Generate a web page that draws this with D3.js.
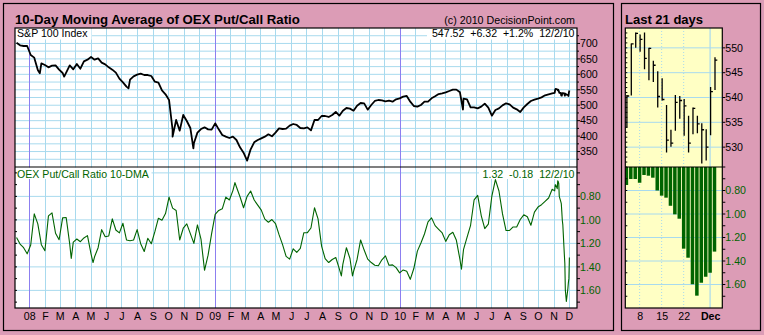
<!DOCTYPE html>
<html><head><meta charset="utf-8">
<script src="https://cdn.jsdelivr.net/npm/d3@7"></script>
<style>
html,body{margin:0;padding:0;background:#fff;}
svg{display:block;font-family:"Liberation Sans",Arial,sans-serif;}
text{white-space:pre;}
</style></head><body>
<svg id="c" width="764" height="335"></svg>
<script>
// ---------------- DATA ----------------
const weekStart = "2007-12-07"; // weekly samples (Fridays) of the long series
const priceWeekly = [702.5,693.9,691.7,691.7,662.6,654.0,614.0,635.6,630.2,622.7,628.0,629.1,615.1,604.3,605.4,629.1,616.2,633.4,618.3,642.1,
 647.5,656.1,647.5,651.8,637.8,632.4,622.7,615.1,605.4,586.0,574.1,560.1,582.7,593.5,598.9,602.2,597.8,597.8,594.6,576.3,
 573.0,548.0,535.3,516.9,419.8,452.2,417.6,468.4,449.0,426.3,376.6,411.2,423.0,428.4,421.9,420.9,441.4,421.9,403.6,398.2,
 393.9,398.2,387.4,363.7,346.4,320.5,357.2,379.9,387.4,392.8,398.2,405.8,399.3,411.2,425.2,423.0,424.1,433.8,439.2,436.0,
 426.3,425.2,428.4,418.7,452.2,452.2,465.1,465.1,461.9,468.3,478.1,466.2,482.4,491.0,488.9,482.4,498.6,507.2,506.1,485.6,
 500.7,513.7,516.9,515.8,512.6,514.8,511.5,519.1,522.3,527.7,529.9,511.5,497.5,495.3,500.7,511.5,511.5,522.3,528.8,536.3,
 538.5,541.7,546.0,550.4,550.4,541.7,521.2,519.1,493.1,493.1,489.9,495.3,505.0,492.1,466.2,484.5,489.9,499.6,506.1,502.9,
 492.1,486.7,478.1,493.1,504.0,513.7,518.0,521.2,525.5,532.0,535.3,538.5];
const pcrWeekly = [1.149,1.206,1.237,1.289,1.214,0.949,1.034,1.211,1.263,0.966,0.94,1.114,1.169,0.983,0.98,1.206,1.189,1.163,1.186,1.154,
 1.134,1.289,1.314,1.237,1.083,1.143,1.137,0.991,1.086,1.111,1.029,1.171,1.177,1.171,1.083,1.203,1.269,1.157,1.203,1.10,
 0.986,1.003,0.946,0.806,0.90,0.92,1.171,1.071,1.034,1.117,1.20,1.043,1.163,1.429,1.30,1.117,0.954,0.92,0.906,0.806,
 0.831,0.751,0.72,0.803,0.897,0.80,0.754,0.831,0.874,0.917,0.994,1.02,0.997,1.031,1.126,1.211,1.311,1.334,1.246,1.277,
 1.243,1.109,1.109,1.069,0.897,0.991,1.223,1.329,1.363,1.337,1.32,1.417,1.377,1.237,1.329,1.44,1.337,1.171,1.257,1.334,
 1.363,1.386,1.391,1.34,1.306,1.386,1.383,1.406,1.451,1.426,1.437,1.506,1.414,1.266,1.197,1.12,1.017,0.983,1.049,1.08,
 1.111,1.183,1.126,1.106,1.174,1.337,1.254,1.149,1.046,0.829,0.791,0.963,1.074,1.037,0.797,0.657,0.754,0.949,1.091,1.089,
 1.06,1.06,0.997,0.957,0.974,1.046,0.934,0.891,0.871,0.843,0.814,0.74];

// extra single-day extremes (between weekly samples)
const priceExtraDates = ["2008-01-22","2008-03-10","2008-07-15","2008-10-10","2008-11-20","2010-05-06"];
const priceExtraValues = [603.2,592.4,554.7,398.2,360.4,486.0];
const pcrExtraDates = ["2008-03-24","2008-05-06","2009-02-10","2009-09-08","2009-09-30","2010-05-03"];
const pcrExtraValues = [1.329,1.363,0.683,1.477,1.477,1.42];

// last 21 trading days
const recentDates = ["2010-11-03","2010-11-04","2010-11-05","2010-11-08","2010-11-09","2010-11-10","2010-11-11","2010-11-12",
 "2010-11-15","2010-11-16","2010-11-17","2010-11-18","2010-11-19","2010-11-22","2010-11-23","2010-11-24","2010-11-26",
 "2010-11-29","2010-11-30","2010-12-01","2010-12-02"];
const recentHigh  = [540.5,550.9,553.1,552.7,553.1,550.0,547.4,545.3,543.9,538.5,533.5,540.5,540.3,539.7,536.3,538.0,536.3,534.8,533.6,542.1,548.1];
const recentLow   = [533.9,540.4,550.0,549.2,545.7,543.5,543.1,538.0,539.4,528.9,530.1,533.3,535.7,532.3,528.9,532.6,532.8,526.7,527.3,532.4,541.5];
const recentClose = [540.3,550.8,552.9,551.7,547.9,549.9,546.5,540.2,539.6,531.4,530.8,539.0,539.4,538.3,530.8,537.8,534.7,533.5,530.0,541.20,547.52];
const recentPcr   = [0.753,0.702,0.702,0.734,0.668,0.674,0.691,0.80,0.844,0.861,0.93,1.003,1.04,1.295,1.372,1.598,1.695,1.585,1.534,1.50,1.32];

const priceTicks = [350,400,450,500,550,600,650,700];
const pcrTicks = [0.80,1.00,1.20,1.40,1.60];
const recentPriceTicks = [530,535,540,545,550];
const recentTickDates = ["2010-11-08","2010-11-15","2010-11-22","2010-12-01"];
const recentTickLabels = ["8","15","22","Dec"];

const titleText = "10-Day Moving Average of OEX Put/Call Ratio";
const copyText = "(c) 2010 DecisionPoint.com";
const priceName = "S&P 100 Index";
const pcrName = "OEX Put/Call Ratio 10-DMA";
const recentTitle = "Last 21 days";

// ---------------- SETUP ----------------
const parse = d3.timeParse("%Y-%m-%d");
const W = 764, H = 335;
const PINK = "#dc9cb6", GRID = "#a8daee", YEAR = "#8c7ff0", GREEN = "#006400", YELLOW = "#ffffc4";
const FONT = 10.6;
const svg = d3.select("#c");

const wk0 = parse(weekStart);
const weeklyDates = priceWeekly.map((_, i) => d3.timeDay.offset(wk0, 7 * i));
const recentParsed = recentDates.map(parse);
const priceSeries = weeklyDates.map((d, i) => ({date: d, v: priceWeekly[i]}))
  .concat(priceExtraDates.map((d, i) => ({date: parse(d), v: priceExtraValues[i]})))
  .concat(recentParsed.map((d, i) => ({date: d, v: recentClose[i]})))
  .sort((a, b) => a.date - b.date);
const pcrSeries = weeklyDates.map((d, i) => ({date: d, v: pcrWeekly[i]}))
  .concat(pcrExtraDates.map((d, i) => ({date: parse(d), v: pcrExtraValues[i]})))
  .concat(recentParsed.map((d, i) => ({date: d, v: recentPcr[i]})))
  .sort((a, b) => a.date - b.date);

const L = {x0: 15, x1: 577, y0: 28, ym: 167, y1: 308};
const R = {x0: 625.3, x1: 722.3, y0: 28, ym: 167, y1: 308};

const x = d3.scaleTime().domain([new Date(2007, 11, 4), new Date(2010, 11, 17)]).range([L.x0, L.x1]);
const yP = d3.scaleLinear().domain([300, 750]).range([L.ym, L.y0]);
const yR = d3.scaleLinear().domain([0.55, 1.75]).range([L.ym, L.y1]);

const rx = d3.scaleLinear().domain([0, 20]).range([626.4, 714.5]);
const ryP = d3.scaleLinear().domain([526, 554]).range([R.ym, R.y0]);
const ryR = d3.scaleLinear().domain([0.6, 1.8]).range([R.ym, R.y1]);

// background
svg.append("rect").attr("width", W).attr("height", H).attr("fill", PINK);
svg.append("rect").attr("x", 3.5).attr("y", 3.5).attr("width", 610).attr("height", 327)
  .attr("fill", "none").attr("stroke", "#000").attr("stroke-width", 1.2);
svg.append("rect").attr("x", 621.5).attr("y", 3.5).attr("width", 139).attr("height", 327)
  .attr("fill", "none").attr("stroke", "#000").attr("stroke-width", 1.2);

const defs = svg.append("defs");
defs.append("clipPath").attr("id", "clipP").append("rect").attr("x", L.x0).attr("y", L.y0).attr("width", L.x1 - L.x0).attr("height", L.ym - L.y0);
defs.append("clipPath").attr("id", "clipR").append("rect").attr("x", L.x0).attr("y", L.ym).attr("width", L.x1 - L.x0).attr("height", L.y1 - L.ym);
defs.append("clipPath").attr("id", "clipRR").append("rect").attr("x", R.x0).attr("y", R.y0).attr("width", R.x1 - R.x0).attr("height", R.y1 - R.y0);

// ---------------- MAIN PANEL ----------------
const g = svg.append("g");
g.append("rect").attr("x", L.x0).attr("y", L.y0).attr("width", L.x1 - L.x0).attr("height", L.y1 - L.y0).attr("fill", "#fff");

const priceGrid = d3.range(325, 750, 25);
g.selectAll(".hgp").data(priceGrid).join("line")
  .attr("x1", L.x0).attr("x2", L.x1).attr("y1", d => yP(d)).attr("y2", d => yP(d))
  .attr("stroke", GRID).attr("stroke-width", 1);
const pcrGrid = [0.6].concat(pcrTicks);
g.selectAll(".hgr").data(pcrGrid).join("line")
  .attr("x1", L.x0).attr("x2", L.x1).attr("y1", d => yR(d)).attr("y2", d => yR(d))
  .attr("stroke", GRID).attr("stroke-width", 1);

const months = d3.timeMonth.range(new Date(2008, 0, 1), new Date(2010, 11, 2));
g.selectAll(".vg").data(months).join("line")
  .attr("x1", d => Math.round(x(d)) + 0.5).attr("x2", d => Math.round(x(d)) + 0.5)
  .attr("y1", L.y0).attr("y2", L.y1)
  .attr("stroke", d => d.getMonth() === 0 ? YEAR : GRID).attr("stroke-width", 1);

g.append("path").datum(priceSeries).attr("clip-path", "url(#clipP)")
  .attr("d", d3.line().x(d => x(d.date)).y(d => yP(d.v)))
  .attr("fill", "none").attr("stroke", "#000").attr("stroke-width", 1.8).attr("stroke-linejoin", "round");
g.append("path").datum(pcrSeries).attr("clip-path", "url(#clipR)")
  .attr("d", d3.line().x(d => x(d.date)).y(d => yR(d.v)))
  .attr("fill", "none").attr("stroke", GREEN).attr("stroke-width", 1.1).attr("stroke-linejoin", "round");

const fmtDate = d => `${d.getMonth() + 1}/${d.getDate()}/${String(d.getFullYear()).slice(2)}`;
const signed = v => (v >= 0 ? "+" : "-") + Math.abs(v).toFixed(2);
const n = recentClose.length;
const lastDate = recentParsed[n - 1];
const pChg = recentClose[n - 1] - recentClose[n - 2];
const pPct = pChg / recentClose[n - 2] * 100;
const rChg = recentPcr[n - 1] - recentPcr[n - 2];
const priceStats = `${recentClose[n - 1].toFixed(2)}  ${signed(pChg)}  ${(pPct >= 0 ? "+" : "-") + Math.abs(pPct).toFixed(1)}%  ${fmtDate(lastDate)}`;
const pcrStats = `${recentPcr[n - 1].toFixed(2)}  ${signed(rChg)}  ${fmtDate(lastDate)}`;

function labelBox(xx, yy, w, h) {
  g.append("rect").attr("x", xx).attr("y", yy).attr("width", w).attr("height", h).attr("fill", "#fff");
}
labelBox(L.x0 + 0.5, L.y0 + 0.5, 76, 11);
labelBox(427, L.y0 + 0.5, L.x1 - 427 - 0.5, 11);
labelBox(L.x0 + 0.5, L.ym + 0.5, 136, 11.5);
labelBox(479, L.ym + 0.5, L.x1 - 479 - 0.5, 11.5);

g.append("text").attr("x", 17).attr("y", 37).attr("font-size", FONT).attr("fill", "#000").text(priceName);
g.append("text").attr("x", 574.5).attr("y", 37).attr("text-anchor", "end").attr("font-size", FONT).attr("fill", "#000").text(priceStats);
g.append("text").attr("x", 17).attr("y", 177.5).attr("font-size", FONT).attr("fill", GREEN).text(pcrName);
g.append("text").attr("x", 574.5).attr("y", 177.5).attr("text-anchor", "end").attr("font-size", FONT).attr("fill", GREEN).text(pcrStats);

g.append("rect").attr("x", L.x0).attr("y", L.y0).attr("width", L.x1 - L.x0).attr("height", L.y1 - L.y0)
  .attr("fill", "none").attr("stroke", "#000").attr("stroke-width", 1.2);
g.append("line").attr("x1", L.x0).attr("x2", L.x1).attr("y1", L.ym).attr("y2", L.ym).attr("stroke", "#000").attr("stroke-width", 1.2);

g.selectAll(".tp").data(priceGrid).join("line")
  .attr("x1", L.x1).attr("x2", d => L.x1 + (d % 50 === 0 ? 3 : 2)).attr("y1", d => yP(d)).attr("y2", d => yP(d))
  .attr("stroke", "#000");
g.selectAll(".lp").data(priceTicks).join("text")
  .attr("x", L.x1 + 3).attr("y", d => yP(d)).attr("dy", "0.36em").attr("font-size", FONT).attr("fill", "#000").text(d => d);
const pcrMinor = d3.range(6, 18).map(v => v / 10);
g.selectAll(".tr").data(pcrMinor).join("line")
  .attr("x1", L.x1).attr("x2", L.x1 + 3).attr("y1", d => yR(d)).attr("y2", d => yR(d)).attr("stroke", "#000");
g.selectAll(".tl").data(pcrMinor).join("line")
  .attr("x1", L.x0).attr("x2", L.x0 + 2).attr("y1", d => yR(d)).attr("y2", d => yR(d)).attr("stroke", "#000");
g.selectAll(".lr").data(pcrTicks).join("text")
  .attr("x", L.x1 + 3).attr("y", d => yR(d)).attr("dy", "0.36em").attr("font-size", FONT).attr("fill", GREEN).text(d => d.toFixed(2));

const fy = d3.timeFormat("%y"), fm = d3.timeFormat("%b");
g.selectAll(".xl").data(months).join("text")
  .attr("x", d => x(d) + 0.5).attr("y", 320).attr("text-anchor", "middle").attr("font-size", FONT).attr("fill", "#000")
  .text(d => d.getMonth() === 0 ? fy(d) : fm(d)[0]);

svg.append("text").attr("x", 15).attr("y", 24).attr("font-size", 13.2).attr("font-weight", "bold").text(titleText);
svg.append("text").attr("x", 575).attr("y", 24).attr("text-anchor", "end").attr("font-size", 10.7).text(copyText);

// ---------------- RIGHT PANEL ----------------
const r = svg.append("g");
r.append("rect").attr("x", R.x0).attr("y", R.y0).attr("width", R.x1 - R.x0).attr("height", R.y1 - R.y0).attr("fill", YELLOW);
r.selectAll(".rhg").data(recentPriceTicks).join("line")
  .attr("x1", R.x0).attr("x2", R.x1).attr("y1", d => ryP(d)).attr("y2", d => ryP(d)).attr("stroke", GRID);
r.selectAll(".rhr").data(pcrTicks).join("line")
  .attr("x1", R.x0).attr("x2", R.x1).attr("y1", d => ryR(d)).attr("y2", d => ryR(d)).attr("stroke", GRID);
const tickIdx = recentTickDates.map(d => recentDates.indexOf(d));
r.selectAll(".rvg").data(tickIdx).join("line")
  .attr("x1", d => rx(d)).attr("x2", d => rx(d)).attr("y1", R.y0).attr("y2", R.y1)
  .attr("stroke", GRID).attr("stroke-width", (d, i) => recentTickLabels[i] === "Dec" ? 1.2 : 1)
  .attr("stroke-dasharray", (d, i) => recentTickLabels[i] === "Dec" ? null : "1,2");

const rc = r.append("g").attr("clip-path", "url(#clipRR)");
const idx = d3.range(recentDates.length);
rc.selectAll(".bar").data(idx).join("rect")
  .attr("x", i => rx(i) - 1.75).attr("width", 3.5)
  .attr("y", ryR(0.6)).attr("height", i => ryR(recentPcr[i]) - ryR(0.6)).attr("fill", GREEN);
rc.selectAll(".hl").data(idx).join("line")
  .attr("x1", i => rx(i) + 0.5).attr("x2", i => rx(i) + 0.5)
  .attr("y1", i => ryP(recentHigh[i])).attr("y2", i => ryP(recentLow[i]))
  .attr("stroke", "#000").attr("stroke-width", 1.3);
rc.selectAll(".cl").data(idx).join("line")
  .attr("x1", i => rx(i) + 0.5).attr("x2", i => rx(i) + 2.8)
  .attr("y1", i => ryP(recentClose[i])).attr("y2", i => ryP(recentClose[i]))
  .attr("stroke", "#000").attr("stroke-width", 1.3);

r.append("rect").attr("x", R.x0).attr("y", R.y0).attr("width", R.x1 - R.x0).attr("height", R.y1 - R.y0)
  .attr("fill", "none").attr("stroke", "#000").attr("stroke-width", 1.2);
r.append("line").attr("x1", R.x0).attr("x2", R.x1).attr("y1", R.ym).attr("y2", R.ym).attr("stroke", "#000").attr("stroke-width", 1.2);

const rpMinor = d3.range(527, 554, 1);
r.selectAll(".rtl").data(rpMinor).join("line")
  .attr("x1", R.x0).attr("x2", R.x0 + 2).attr("y1", d => ryP(d)).attr("y2", d => ryP(d)).attr("stroke", "#000");
r.selectAll(".rtr").data(recentPriceTicks).join("line")
  .attr("x1", R.x1).attr("x2", R.x1 + 3).attr("y1", d => ryP(d)).attr("y2", d => ryP(d)).attr("stroke", "#000");
r.selectAll(".rlp").data(recentPriceTicks).join("text")
  .attr("x", R.x1 + 3).attr("y", d => ryP(d)).attr("dy", "0.36em").attr("font-size", FONT).text(d => d);
r.selectAll(".rtl2").data(pcrMinor).join("line")
  .attr("x1", R.x0).attr("x2", R.x0 + 2).attr("y1", d => ryR(d)).attr("y2", d => ryR(d)).attr("stroke", "#000");
r.selectAll(".rtr2").data(pcrMinor).join("line")
  .attr("x1", R.x1).attr("x2", R.x1 + 3).attr("y1", d => ryR(d)).attr("y2", d => ryR(d)).attr("stroke", "#000");
r.selectAll(".rlr").data(pcrTicks).join("text")
  .attr("x", R.x1 + 3).attr("y", d => ryR(d)).attr("dy", "0.36em").attr("font-size", FONT).attr("fill", GREEN).text(d => d.toFixed(2));
r.selectAll(".rxl").data(tickIdx).join("text")
  .attr("x", d => rx(d) + 0.5).attr("y", 320).attr("text-anchor", "middle").attr("font-size", FONT)
  .attr("font-weight", (d, i) => recentTickLabels[i] === "Dec" ? "bold" : null)
  .text((d, i) => recentTickLabels[i]);
svg.append("text").attr("x", 625).attr("y", 24).attr("font-size", 13).attr("font-weight", "bold").text(recentTitle);
</script>
</body></html>
